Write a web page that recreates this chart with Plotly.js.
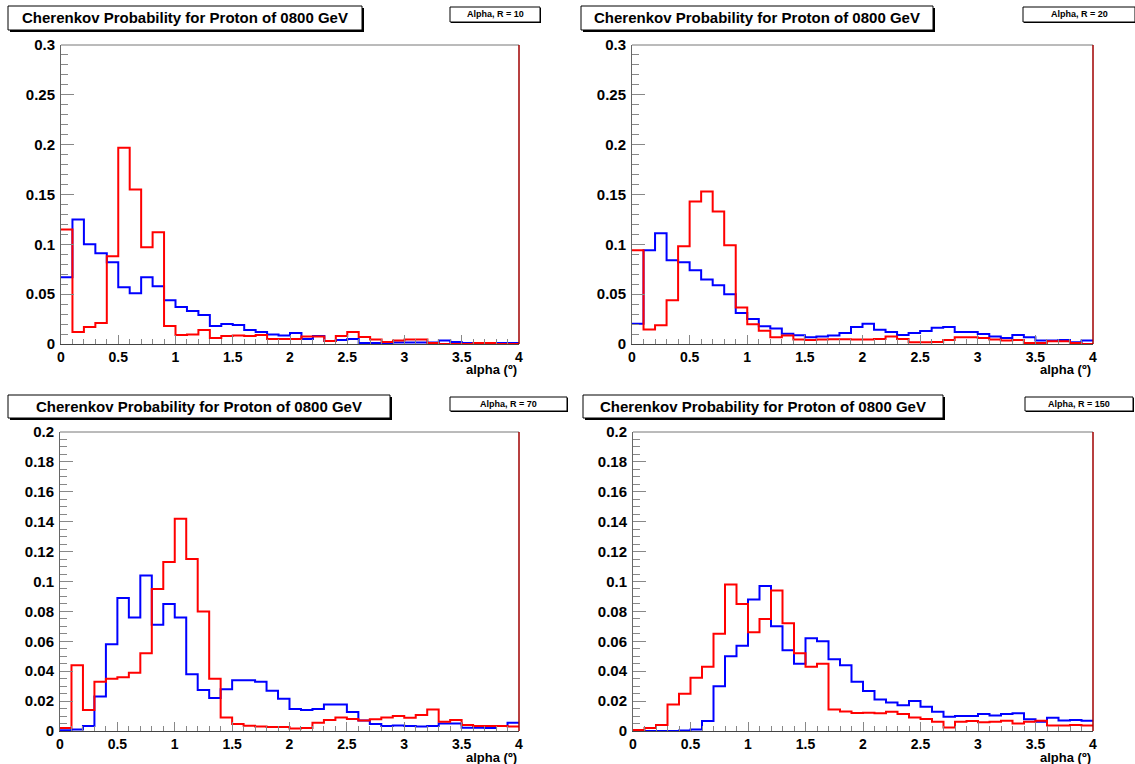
<!DOCTYPE html>
<html>
<head>
<meta charset="utf-8">
<script src="https://cdn.plot.ly/plotly-3.0.1.min.js"></script>
<style>html,body{margin:0;padding:0;background:#fff;}#chart{width:1135px;height:764px;}</style>
</head>
<body>
<div id="chart"></div>
<script>
// Bin edges of every histogram (alpha, degrees)
const binEdges = [0,0.1,0.2,0.3,0.4,0.5,0.6,0.7,0.8,0.9,1.0,1.1,1.2,1.3,1.4,1.5,1.6,1.7,1.8,1.9,2.0,
                  2.1,2.2,2.3,2.4,2.5,2.6,2.7,2.8,2.9,3.0,3.1,3.2,3.3,3.4,3.5,3.6,3.7,3.8,3.9,4.0];

const panelTitle = "Cherenkov Probability for Proton of 0800 GeV";
const panelLabels = ["Alpha, R = 10", "Alpha, R = 20", "Alpha, R = 70", "Alpha, R = 150"];
const xAxisTitle = "alpha (º)";
const yMax = [0.3, 0.3, 0.2, 0.2];

// R = 10
const red10 = [0.115,0.012,0.017,0.021,0.088,0.197,0.155,0.097,0.112,0.018,
               0.009,0.0095,0.014,0.006,0.008,0.0085,0.008,0.009,0.005,0.005,
               0.005,0.0075,0.0075,0.003,0.008,0.012,0.007,0.0045,0.002,0.0035,
               0.0045,0.0045,0.001,0.0,0.0,0.0,0.001,0.001,0.0,0.0];
const blue10 = [0.067,0.125,0.100,0.091,0.082,0.057,0.051,0.067,0.058,0.044,
                0.037,0.033,0.029,0.018,0.020,0.019,0.014,0.012,0.0095,0.0085,
                0.011,0.005,0.008,0.003,0.004,0.005,0.001,0.001,0.001,0.0015,
                0.0015,0.0015,0.0015,0.0035,0.002,0.001,0.001,0.001,0.001,0.001];
// R = 20
const red20 = [0.094,0.0146,0.0187,0.044,0.098,0.143,0.153,0.133,0.099,0.0367,
               0.0197,0.0133,0.0068,0.0085,0.0044,0.004,0.0044,0.0048,0.0048,0.0044,
               0.0044,0.005,0.0075,0.005,0.0017,0.0017,0.002,0.004,0.0068,0.0068,
               0.006,0.0044,0.0034,0.004,0.001,0.001,0.0027,0.0027,0.001,0.0];
const blue20 = [0.0204,0.094,0.111,0.084,0.082,0.074,0.0646,0.059,0.050,0.031,
                0.025,0.0177,0.0156,0.0102,0.0088,0.0068,0.0075,0.0085,0.011,0.017,
                0.0204,0.0143,0.012,0.009,0.011,0.013,0.0163,0.017,0.012,0.012,
                0.010,0.0075,0.006,0.009,0.0068,0.0034,0.0034,0.004,0.0017,0.0034];
// R = 70
const red70 = [0.002,0.044,0.014,0.033,0.035,0.036,0.039,0.052,0.095,0.113,
               0.142,0.115,0.080,0.035,0.009,0.0047,0.0035,0.003,0.0027,0.0027,
               0.0016,0.002,0.0056,0.0073,0.009,0.008,0.007,0.0078,0.009,0.010,
               0.0089,0.0107,0.0144,0.0062,0.0073,0.004,0.0033,0.0033,0.0033,0.003];
const blue70 = [0.0005,0.001,0.0033,0.023,0.058,0.089,0.076,0.104,0.071,0.085,
                0.076,0.038,0.0275,0.022,0.028,0.034,0.034,0.033,0.027,0.0215,
                0.0147,0.014,0.0147,0.0178,0.0178,0.0127,0.007,0.0047,0.0033,0.0036,
                0.0033,0.003,0.0033,0.005,0.005,0.0022,0.0022,0.002,0.0033,0.0055];
// R = 150
const red150 = [0.0007,0.002,0.004,0.0178,0.025,0.0356,0.043,0.065,0.098,0.085,
                0.066,0.075,0.094,0.072,0.052,0.043,0.045,0.0144,0.013,0.012,
                0.0122,0.0118,0.0129,0.0113,0.009,0.008,0.0062,0.0024,0.0062,0.0067,
                0.0058,0.0062,0.0069,0.0051,0.0062,0.0069,0.0036,0.0036,0.004,0.0036];
const blue150 = [0.0,0.0,0.0,0.0,0.0004,0.001,0.0067,0.030,0.050,0.057,
                 0.088,0.097,0.070,0.054,0.045,0.062,0.060,0.048,0.044,0.033,
                 0.0267,0.021,0.019,0.0173,0.020,0.0162,0.0129,0.0096,0.010,0.010,
                 0.0113,0.0104,0.0113,0.0118,0.0078,0.0062,0.0089,0.0071,0.0073,0.0069];

const redSeries = [red10, red20, red70, red150];
const blueSeries = [blue10, blue20, blue70, blue150];

// ---- layout geometry (pixels) ----
const W = 1135, H = 764;
const panels = [
  {x0:61,  x1:519,  y0:45,  y1:344, title:[8,6,362,30],   box:[450,7,540,22],   axTitleY:370},
  {x0:632, x1:1093, y0:45,  y1:344, title:[581,6,933,30], box:[1023,7,1135,22], axTitleY:370},
  {x0:60,  x1:519,  y0:432, y1:731, title:[8,395,390,418],  box:[450,397,567,411], axTitleY:757},
  {x0:633, x1:1093, y0:432, y1:731, title:[583,395,943,418],box:[1025,397,1133,411],axTitleY:757}
];
const px = v => v / W;
const py = v => 1 - v / H;

const FONT = "Liberation Sans, Arial, Helvetica, sans-serif";
const traces = [];
const layout = {
  width: W, height: H,
  margin: {l:0, r:0, t:0, b:0},
  paper_bgcolor: "#ffffff",
  plot_bgcolor: "#ffffff",
  showlegend: false,
  font: {family: FONT, color: "#000", size: 14},
  shapes: [],
  annotations: []
};

function stepY(vals) { return vals.concat([vals[vals.length - 1]]); }

panels.forEach((p, i) => {
  const n = i + 1;
  const xa = "x" + (n === 1 ? "" : n);
  const ya = "y" + (n === 1 ? "" : n);
  traces.push({
    type: "scatter", mode: "lines", x: binEdges, y: stepY(blueSeries[i]),
    line: {shape: "hv", color: "#0000ff", width: 2}, xaxis: xa, yaxis: ya, hoverinfo: "skip"
  });
  traces.push({
    type: "scatter", mode: "lines", x: binEdges, y: stepY(redSeries[i]),
    line: {shape: "hv", color: "#ff0000", width: 2}, xaxis: xa, yaxis: ya, hoverinfo: "skip"
  });
  const ydt = yMax[i] > 0.25 ? 0.05 : 0.02;
  const ymin = yMax[i] > 0.25 ? 0.01 : 0.005;
  layout["xaxis" + (n === 1 ? "" : n)] = {
    domain: [px(p.x0), px(p.x1)], anchor: ya, range: [0, 4],
    dtick: 0.5, tick0: 0, ticks: "inside", ticklen: 9, tickwidth: 1, tickcolor: "#888",
    minor: {dtick: 0.1, ticks: "inside", ticklen: 5, tickcolor: "#888", tickwidth: 1, showgrid: false},
    showgrid: false, zeroline: false, showline: true, linecolor: "#444", linewidth: 1,
    ticklabelstandoff: 0,
    tickfont: {family: FONT, size: 14, color: "#000", weight: "bold"}, fixedrange: true
  };
  layout["yaxis" + (n === 1 ? "" : n)] = {
    domain: [py(p.y1), py(p.y0)], anchor: xa, range: [0, yMax[i]],
    dtick: ydt, tick0: 0, ticks: "inside", ticklen: 13, tickwidth: 1, tickcolor: "#888",
    minor: {dtick: ymin, ticks: "inside", ticklen: 7, tickcolor: "#888", tickwidth: 1, showgrid: false},
    showgrid: false, zeroline: false, showline: true, linecolor: "#666", linewidth: 1,
    ticklabelstandoff: 2,
    tickfont: {family: FONT, size: 15, color: "#000", weight: "bold"}, fixedrange: true
  };
  // frame top (thin) and right edge (dark red)
  layout.shapes.push({type:"line", xref:"paper", yref:"paper", x0:px(p.x0), x1:px(p.x1), y0:py(p.y0), y1:py(p.y0), line:{color:"#777", width:1}});
  layout.shapes.push({type:"line", xref:"paper", yref:"paper", x0:px(p.x1), x1:px(p.x1), y0:py(p.y0), y1:py(p.y1), line:{color:"#a00000", width:1.5}});
  // title box with shadow
  const t = p.title;
  layout.shapes.push({type:"rect", xref:"paper", yref:"paper", x0:px(t[0]+2), x1:px(t[2]+2), y0:py(t[3]+2), y1:py(t[1]+2), fillcolor:"#000", line:{width:0}});
  layout.shapes.push({type:"rect", xref:"paper", yref:"paper", x0:px(t[0]), x1:px(t[2]), y0:py(t[3]), y1:py(t[1]), fillcolor:"#fff", line:{color:"#000", width:1}});
  layout.annotations.push({xref:"paper", yref:"paper", x:px((t[0]+t[2])/2), y:py((t[1]+t[3])/2), xanchor:"center", yanchor:"middle",
    text:"<b>" + panelTitle + "</b>", showarrow:false, font:{family:FONT, size:15, color:"#000"}});
  // label box with shadow
  const b = p.box;
  layout.shapes.push({type:"rect", xref:"paper", yref:"paper", x0:px(b[0]+1), x1:px(b[2]+1), y0:py(b[3]+1), y1:py(b[1]+1), fillcolor:"#000", line:{width:0}});
  layout.shapes.push({type:"rect", xref:"paper", yref:"paper", x0:px(b[0]), x1:px(b[2]), y0:py(b[3]), y1:py(b[1]), fillcolor:"#fff", line:{color:"#000", width:1}});
  layout.annotations.push({xref:"paper", yref:"paper", x:px((b[0]+b[2])/2), y:py((b[1]+b[3])/2), xanchor:"center", yanchor:"middle",
    text:"<b>" + panelLabels[i] + "</b>", showarrow:false, font:{family:FONT, size:9, color:"#000"}});
  // x axis title, right aligned
  layout.annotations.push({xref:"paper", yref:"paper", x:px(p.x1), y:py(p.axTitleY), xanchor:"right", yanchor:"middle",
    text:"<b>" + xAxisTitle + "</b>", showarrow:false, font:{family:FONT, size:13, color:"#000"}});
});

Plotly.newPlot("chart", traces, layout, {staticPlot: true, displayModeBar: false});
</script>
</body>
</html>
